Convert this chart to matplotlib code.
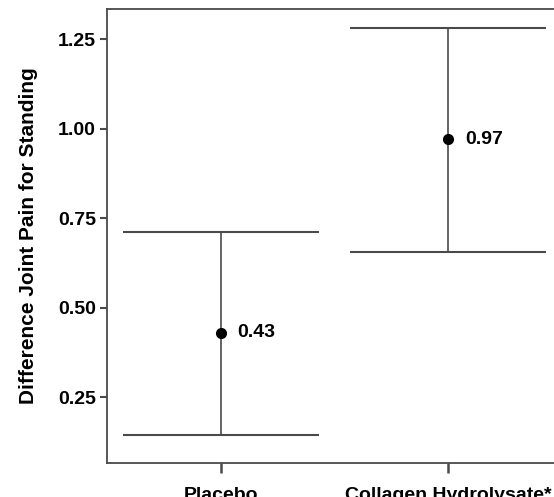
import matplotlib
matplotlib.use("Agg")
import matplotlib.pyplot as plt

# group means with 95% confidence limits
groups = ["Placebo", "Collagen Hydrolysate*"]
means = [0.43, 0.97]
ci_low = [0.144, 0.655]
ci_high = [0.711, 1.281]
yticks = [0.25, 0.50, 0.75, 1.00, 1.25]

plt.rcParams["font.family"] = ["Liberation Sans", "DejaVu Sans"]
plt.rcParams["font.weight"] = "bold"

W, H = 554, 497
fig = plt.figure(figsize=(W / 100, H / 100), dpi=100)
# box runs a little past the right edge of the figure
ax = fig.add_axes([107 / W, 1 - 463 / H, (562 - 107) / W, (463 - 9) / H])

line_col = "#4a4a4a"
fs = 14
x = list(range(len(groups)))
for xi, m, lo, hi in zip(x, means, ci_low, ci_high):
    ax.vlines(xi, lo, hi, color=line_col, lw=1.2)
    ax.hlines([lo, hi], xi - 0.43, xi + 0.43, color=line_col, lw=1.5)
    ax.plot(xi, m, "o", color="black", ms=7, zorder=3)
    ax.annotate(f"{m:.2f}", (xi, m), xytext=(12, 0), textcoords="offset points",
                va="center", ha="left", fontsize=fs, fontweight="bold")

ax.set_xlim(-0.5, 1.5)
ax.set_ylim(0.066, 1.334)
ax.set_yticks(yticks)
ax.set_yticklabels([f"{v:.2f}" for v in yticks])
ax.set_xticks(x)
ax.set_xticklabels(groups)
ax.set_ylabel("Difference Joint Pain for Standing", fontsize=15,
              fontweight="bold", labelpad=14)

for s in ax.spines.values():
    s.set_color(line_col)
    s.set_linewidth(1.3)
ax.tick_params(axis="y", direction="out", length=5, width=1.5,
               labelsize=fs, color=line_col, pad=3)
ax.tick_params(axis="x", direction="out", length=7, width=1.8,
               labelsize=fs, color=line_col, pad=10)

fig.savefig("out.png", dpi=100)
